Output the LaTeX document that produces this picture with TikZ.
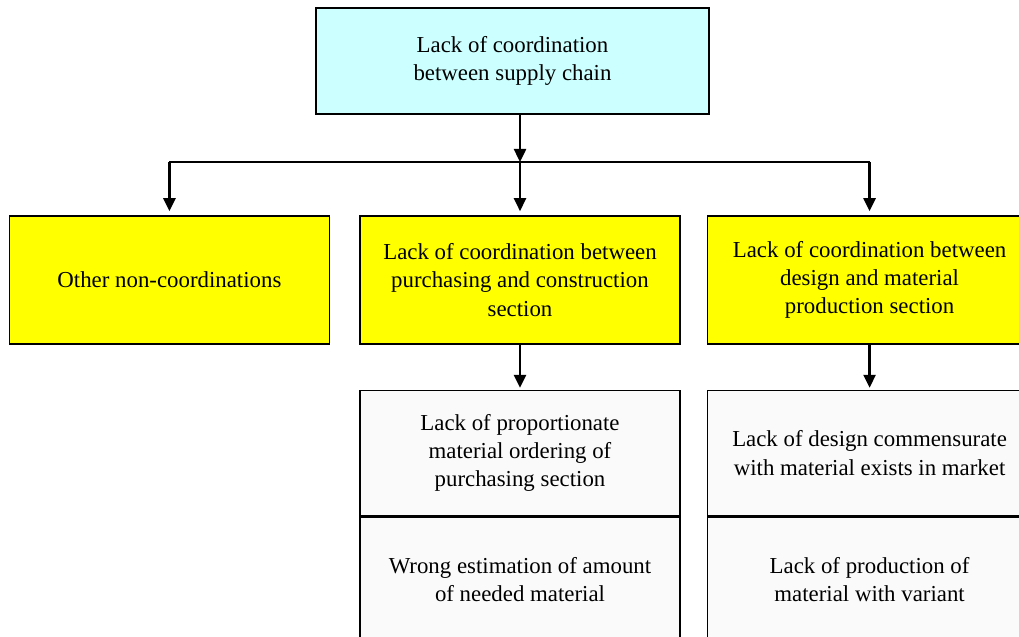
\documentclass[tikz,border=0pt]{standalone}
\usepackage{fontspec}
\setmainfont{Liberation Serif}
\newfontfamily\causefont{Liberation Serif}
\usepackage{tikz}
\usetikzlibrary{arrows.meta,positioning}
\definecolor{rootfill}{RGB}{204,255,255}
\definecolor{branchfill}{RGB}{255,255,0}
\definecolor{leaffill}{RGB}{250,250,250}
\newcommand{\branchwidth}{6.4cm}
\tikzset{
    node distance = 0.9cm,
    cause/.style = { draw, line width = 0.9pt, rectangle, align=center,
        font = \causefont\fontsize{13}{16}\selectfont,
        inner sep = 0pt
    },
    root/.style = { cause, fill = rootfill,
        minimum width = 7.86cm, minimum height = 2.12cm
    },
    branch/.style = { cause, fill = branchfill,
        minimum width = \branchwidth, minimum height = 2.56cm
    },
    leaf/.style = { cause, fill = leaffill,
        minimum width = \branchwidth, minimum height = 2.5cm
    },
    aline/.style = { line width = 1pt },
    arrow/.style = { -{Triangle[length=0.26cm, width=0.24cm]}, line width = 1.4pt }
}
\begin{document}
\begin{tikzpicture}
        \useasboundingbox (0,0) rectangle (20.38,-12.74);
        \clip (0,0) rectangle (20.38,-12.74);

        \node[root] (chain) at (10.25,-1.22) {Lack of coordination\\ between supply chain};

        % second level...
        \node[branch] (purch) at (10.4,-5.6) {Lack of coordination between\\ purchasing and construction\\ section};
        \node[branch] (other) [left = 0.58cm of purch] {Other non-coordinations};
        \node[branch, minimum width = 6.48cm] (design) [right = 0.52cm of purch] {Lack of coordination between\\ design and material\\ production section};

        % bus line...
        \coordinate (bus) at (10.4,-3.24);
        \coordinate (busl) at (other.north |- bus);
        \coordinate (busr) at (design.north |- bus);
        \draw[arrow] (chain.south -| bus) -- (bus);
        \path[aline] (busl) edge (busr);
        \draw[arrow, shorten >= 0.08cm] (busl) -- (other.north);
        \draw[arrow, shorten >= 0.08cm] (bus) -- (purch.north);
        \draw[arrow, shorten >= 0.08cm] (busr) -- (design.north);

        % purchasing branch...
        \node[leaf] (order) [below = of purch] {Lack of proportionate\\ material ordering of\\ purchasing section};
        \node[leaf] (estim) [below = 0cm of order] {Wrong estimation of amount\\ of needed material};
        \draw[arrow, shorten >= 0.04cm] (purch) -- (order);

        % design branch...
        \node[leaf, minimum width = 6.48cm] (market) [below = of design] {Lack of design commensurate\\ with material exists in market};
        \node[leaf, minimum width = 6.48cm] (variant) [below = 0cm of market] {Lack of production of\\ material with variant};
        \draw[arrow, shorten >= 0.04cm] (design) -- (market);

    \end{tikzpicture}
\end{document}
